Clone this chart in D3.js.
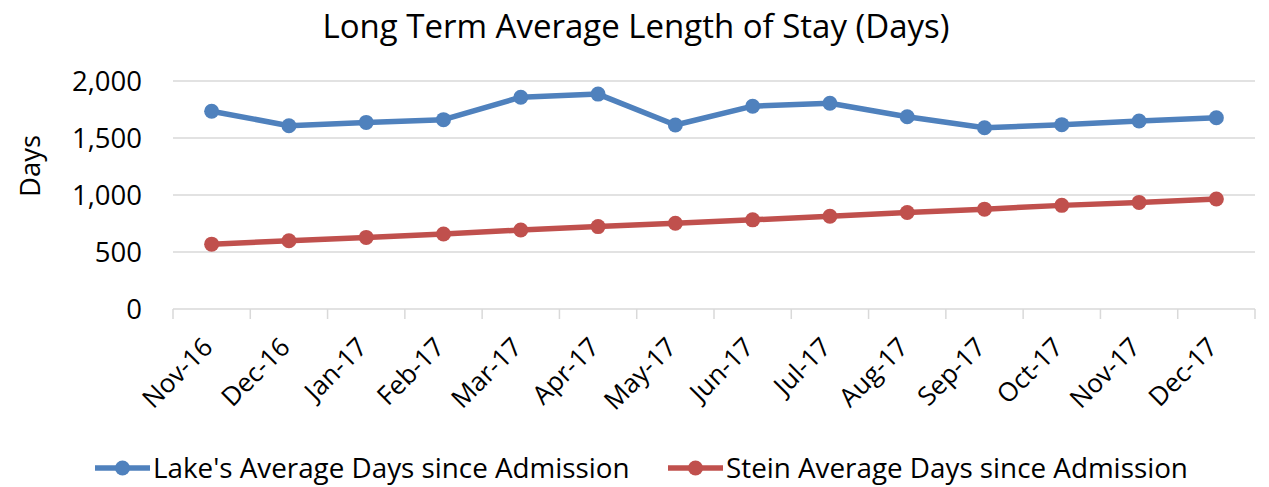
<!DOCTYPE html>
<html>
<head>
<meta charset="utf-8">
<script src="https://cdn.jsdelivr.net/npm/d3@7"></script>
<style>
  body { margin: 0; background: #fff; }
  text { font-family: "Open Sans", Lato, sans-serif; fill: #000; }
</style>
</head>
<body>
<div id="chart"></div>
<script>
const months = ["Nov-16", "Dec-16", "Jan-17", "Feb-17", "Mar-17", "Apr-17", "May-17",
                "Jun-17", "Jul-17", "Aug-17", "Sep-17", "Oct-17", "Nov-17", "Dec-17"];
const lakeDays = [1735, 1608, 1637, 1661, 1858, 1885, 1614, 1779, 1805, 1687, 1590, 1617, 1649, 1678];
const steinDays = [569, 599, 628, 658, 693, 723, 752, 782, 814, 847, 876, 909, 935, 965];
const yTicks = [0, 500, 1000, 1500, 2000];
const seriesNames = ["Lake's Average Days since Admission", "Stein Average Days since Admission"];
const seriesColors = ["#4F81BD", "#C0504D"];

const width = 1269, height = 487;
const margin = { top: 81, right: 14, bottom: 178, left: 173 };

const svg = d3.select("#chart").append("svg")
    .attr("width", width)
    .attr("height", height);

const x = d3.scaleBand()
    .domain(months)
    .range([margin.left, width - margin.right]);

const y = d3.scaleLinear()
    .domain([0, 2000])
    .range([height - margin.bottom, margin.top]);

// gridlines
svg.append("g")
    .selectAll("line")
    .data(yTicks.slice(1))
    .join("line")
    .attr("x1", margin.left)
    .attr("x2", width - margin.right)
    .attr("y1", d => y(d))
    .attr("y2", d => y(d))
    .attr("stroke", "#D9D9D9")
    .attr("stroke-width", 1.5);

// y labels
svg.append("g")
    .selectAll("text")
    .data(yTicks)
    .join("text")
    .attr("x", margin.left - 31)
    .attr("y", d => y(d))
    .attr("dy", "0.36em")
    .attr("text-anchor", "end")
    .style("font-size", "27.5px")
    .text(d => d3.format(",")(d));

// x axis baseline and ticks
const xAxis = svg.append("g");
xAxis.append("line")
    .attr("x1", margin.left)
    .attr("x2", width - margin.right)
    .attr("y1", y(0))
    .attr("y2", y(0))
    .attr("stroke", "#D9D9D9")
    .attr("stroke-width", 1.5);
xAxis.selectAll("line.tick")
    .data(months.map(m => x(m)).concat([x(months[months.length - 1]) + x.bandwidth()]))
    .join("line")
    .attr("class", "tick")
    .attr("x1", d => d)
    .attr("x2", d => d)
    .attr("y1", y(0))
    .attr("y2", y(0) + 10)
    .attr("stroke", "#D9D9D9")
    .attr("stroke-width", 1.5);

xAxis.selectAll("text")
    .data(months)
    .join("text")
    .attr("transform", d => `translate(${x(d) + x.bandwidth() / 2 - 4},${y(0) + 33}) rotate(-45)`)
    .attr("text-anchor", "end")
    .attr("dy", "0.36em")
    .style("font-size", "26px")
    .text(d => d);

// axis title
svg.append("text")
    .attr("transform", `translate(40,166) rotate(-90)`)
    .attr("text-anchor", "middle")
    .style("font-size", "27.5px")
    .text("Days");

// chart title
svg.append("text")
    .attr("x", 636)
    .attr("y", 38)
    .attr("text-anchor", "middle")
    .style("font-size", "33px")
    .text("Long Term Average Length of Stay (Days)");

// series
const line = d3.line()
    .x((d, i) => x(months[i]) + x.bandwidth() / 2)
    .y(d => y(d));

[lakeDays, steinDays].forEach((vals, k) => {
    const g = svg.append("g");
    g.append("path")
        .datum(vals)
        .attr("d", line)
        .attr("fill", "none")
        .attr("stroke", seriesColors[k])
        .attr("stroke-width", 5.5)
        .attr("stroke-linejoin", "round");
    g.selectAll("circle")
        .data(vals)
        .join("circle")
        .attr("cx", (d, i) => x(months[i]) + x.bandwidth() / 2)
        .attr("cy", d => y(d))
        .attr("r", 7.5)
        .attr("fill", seriesColors[k]);
});

// legend
const legendX = [95, 668];
const legend = svg.append("g");
seriesNames.forEach((name, k) => {
    const lg = legend.append("g").attr("transform", `translate(${legendX[k]},468)`);
    lg.append("line")
        .attr("x1", 0).attr("x2", 55)
        .attr("stroke", seriesColors[k])
        .attr("stroke-width", 5.5);
    lg.append("circle")
        .attr("cx", 27.5)
        .attr("r", 7.5)
        .attr("fill", seriesColors[k]);
    lg.append("text")
        .attr("x", 58)
        .attr("dy", "0.36em")
        .style("font-size", "27.8px")
        .text(name);
});
</script>
</body>
</html>
